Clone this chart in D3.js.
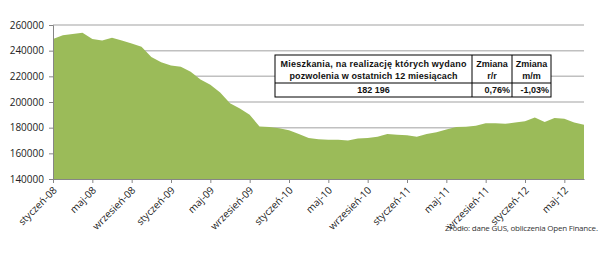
<!DOCTYPE html>
<html>
<head>
    <meta charset="utf-8">
    <title>Mieszkania - pozwolenia</title>
    <script src="https://cdn.jsdelivr.net/npm/d3@7"></script>
    <style>
        body {
            margin: 0;
            background: white;
        }
        .tick-label {
            font-family: "Open Sans", sans-serif;
            font-size: 10px;
            fill: #222;
        }
        .tbl {
            font-family: "Liberation Sans", Arial, sans-serif;
            font-size: 9px;
            font-weight: bold;
            fill: #111;
        }
    </style>
</head>
<body>
    <div id="chart"></div>
    <script>
        // Month names (Polish) and the months on the axis
        const monthNames = ["styczeń", "luty", "marzec", "kwiecień", "maj", "czerwiec",
            "lipiec", "sierpień", "wrzesień", "październik", "listopad", "grudzień"];
        const startYear = 2008;

        // Dwellings permitted in the last 12 months, Jan 2008 - Jul 2012
        const values = [
            249000, 252000, 253000, 254000, 249000, 248000, 250000, 248000, 245500, 243000, 235000, 231000,
            228500, 227500, 223500, 217500, 213500, 207500, 199000, 195000, 190000, 181000, 180500, 179500,
            178000, 175000, 172000, 171000, 170500, 170500, 170000, 171500, 172000, 173000, 175000, 174500,
            174000, 173000, 175000, 176500, 178500, 180500, 180800, 181500, 183500, 183500, 183000, 184000,
            185000, 188000, 184500, 187500, 187000, 184092, 182196
        ];

        const categories = values.map((v, i) =>
            monthNames[i % 12] + "-" + String((startYear + Math.floor(i / 12)) % 100).padStart(2, "0"));

        const tickLabels = ["styczeń-08", "maj-08", "wrzesień-08", "styczeń-09", "maj-09", "wrzesień-09",
            "styczeń-10", "maj-10", "wrzesień-10", "styczeń-11", "maj-11", "wrzesień-11", "styczeń-12", "maj-12"];
        const yTicks = [140000, 160000, 180000, 200000, 220000, 240000, 260000];

        // Table in the chart
        const tableHeader = ["Mieszkania, na realizację których wydano", "pozwolenia w ostatnich 12 miesiącach"];
        const tableValues = ["182 196", "0,76%", "-1,03%"];
        const source = "Źródło: dane GUS, obliczenia Open Finance.";

        const width = 615, height = 254;
        const plot = {left: 53, right: 584, top: 25, bottom: 179};

        const svg = d3.select("#chart")
            .append("svg")
            .attr("width", width)
            .attr("height", height);

        const x = d3.scaleLinear()
            .domain([0, values.length - 1])
            .range([plot.left, plot.right]);

        const y = d3.scaleLinear()
            .domain([140000, 260000])
            .range([plot.bottom, plot.top]);

        // Gridlines
        svg.append("g")
            .selectAll("line")
            .data(yTicks.slice(1))
            .join("line")
            .attr("x1", plot.left)
            .attr("x2", plot.right)
            .attr("y1", d => y(d))
            .attr("y2", d => y(d))
            .attr("stroke", "#c0c0c0")
            .attr("stroke-width", 1.5);

        // Area
        const area = d3.area()
            .x((d, i) => x(i))
            .y0(y(140000))
            .y1(d => y(d));

        svg.append("path")
            .datum(values)
            .attr("d", area)
            .attr("fill", "#9bbb59");

        // Y axis
        const yAxis = svg.append("g")
            .attr("transform", `translate(${plot.left},0)`)
            .call(d3.axisLeft(y).tickValues(yTicks).tickSize(4).tickPadding(5).tickFormat(d3.format("d")));
        yAxis.select(".domain").attr("stroke", "#868686");
        yAxis.selectAll(".tick line").attr("stroke", "#868686");
        yAxis.selectAll("text")
            .attr("class", "tick-label")
            .attr("font-family", null)
            .attr("font-size", null);

        // X axis
        const tickIdx = tickLabels.map(t => categories.indexOf(t));
        const xAxis = svg.append("g")
            .attr("transform", `translate(0,${plot.bottom})`)
            .call(d3.axisBottom(x).tickValues(tickIdx).tickSize(4).tickSizeOuter(0)
                .tickFormat(d => categories[d]));
        xAxis.select(".domain").attr("stroke", "#868686");
        xAxis.selectAll(".tick line").attr("stroke", "#868686");
        xAxis.selectAll("text")
            .attr("class", "tick-label")
            .attr("font-family", null)
            .attr("font-size", null)
            .attr("text-anchor", "end")
            .attr("dy", null)
            .attr("y", 0)
            .attr("transform", "translate(4,12) rotate(-45)");

        // Table
        const tbl = {x0: 275, x1: 472, x2: 512, x3: 551, y0: 55, y1: 83, y2: 97};
        const t = svg.append("g");
        t.append("rect")
            .attr("x", tbl.x0).attr("y", tbl.y0)
            .attr("width", tbl.x3 - tbl.x0).attr("height", tbl.y2 - tbl.y0)
            .attr("fill", "white").attr("stroke", "#000").attr("stroke-width", 1);
        [[tbl.x1, tbl.y0, tbl.x1, tbl.y2], [tbl.x2, tbl.y0, tbl.x2, tbl.y2], [tbl.x0, tbl.y1, tbl.x3, tbl.y1]]
            .forEach(l => t.append("line")
                .attr("x1", l[0]).attr("y1", l[1]).attr("x2", l[2]).attr("y2", l[3])
                .attr("stroke", "#000").attr("stroke-width", 1));

        const cx0 = (tbl.x0 + tbl.x1) / 2;
        t.append("text").attr("class", "tbl").attr("x", cx0).attr("y", 67)
            .attr("text-anchor", "middle").attr("textLength", 186).text(tableHeader[0]);
        t.append("text").attr("class", "tbl").attr("x", cx0).attr("y", 79)
            .attr("text-anchor", "middle").attr("textLength", 168).text(tableHeader[1]);
        [(tbl.x1 + tbl.x2) / 2, (tbl.x2 + tbl.x3) / 2].forEach((cx, i) => {
            t.append("text").attr("class", "tbl").attr("x", cx).attr("y", 67)
                .attr("text-anchor", "middle").text("Zmiana");
            t.append("text").attr("class", "tbl").attr("x", cx).attr("y", 79)
                .attr("text-anchor", "middle").text(i ? "m/m" : "r/r");
        });
        t.append("text").attr("class", "tbl").attr("x", cx0).attr("y", 93)
            .attr("text-anchor", "middle").text(tableValues[0]);
        t.append("text").attr("class", "tbl").attr("x", tbl.x2 - 2).attr("y", 93)
            .attr("text-anchor", "end").text(tableValues[1]);
        t.append("text").attr("class", "tbl").attr("x", tbl.x3 - 2).attr("y", 93)
            .attr("text-anchor", "end").text(tableValues[2]);

        // Source note
        svg.append("text")
            .attr("x", 598)
            .attr("y", 231)
            .attr("text-anchor", "end")
            .attr("font-family", "'Open Sans', sans-serif")
            .attr("font-size", "8px")
            .attr("fill", "#333")
            .attr("textLength", 153)
            .text(source);
    </script>
</body>
</html>
